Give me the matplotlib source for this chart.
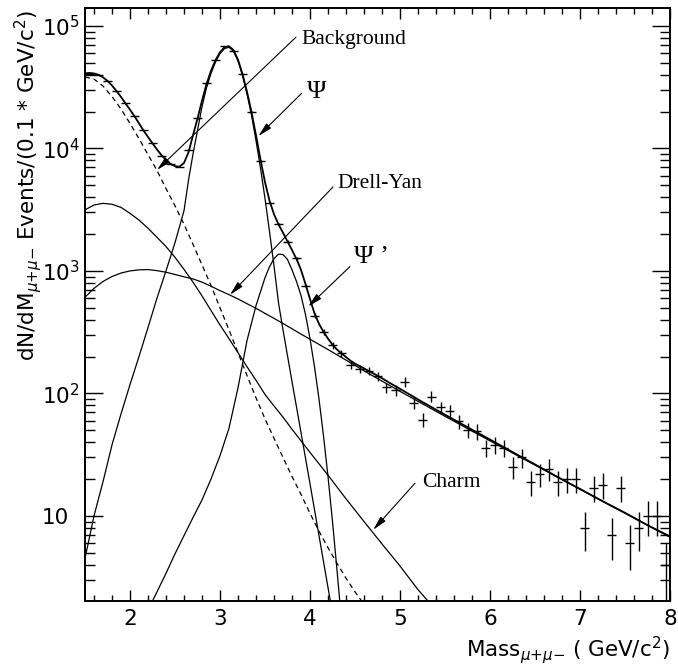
import matplotlib.pyplot as plt
from matplotlib.ticker import FixedLocator, FixedFormatter, MultipleLocator, LogLocator, NullFormatter

# measured dimuon spectrum, 0.1 GeV bins
mass = [1.55, 1.65, 1.75, 1.85, 1.95, 2.05, 2.15, 2.25, 2.35, 2.45,
        2.55, 2.65, 2.75, 2.85, 2.95, 3.05, 3.15, 3.25, 3.35, 3.45,
        3.55, 3.65, 3.75, 3.85, 3.95, 4.05, 4.15, 4.25, 4.35, 4.45,
        4.55, 4.65, 4.75, 4.85, 4.95, 5.05, 5.15, 5.25, 5.35, 5.45,
        5.55, 5.65, 5.75, 5.85, 5.95, 6.05, 6.15, 6.25, 6.35, 6.45,
        6.55, 6.65, 6.75, 6.85, 6.95, 7.05, 7.15, 7.25, 7.35, 7.45,
        7.55, 7.65, 7.75, 7.85, 7.95]
events = [40800, 40000, 35600, 29400, 23400, 18400, 14100, 11000, 8730, 7500,
          7100, 9720, 17600, 34200, 53000, 68700, 62000, 40400, 20000, 7900,
          3600, 2420, 1730, 1270, 757, 431, 319, 247, 213, 170,
          158, 153, 139, 112, 106, 124, 83, 61, 94, 77,
          72, 59, 50, 49, 36, 38, 36, 25, 30, 19,
          22, 24, 19, 20, 20, 8, 17, 18, 7, 17,
          6, 8, 10, 10, 4]
events_err = [200, 200, 190, 170, 150, 135, 120, 105, 95, 87,
              84, 99, 133, 185, 230, 262, 250, 200, 141, 89,
              60, 49, 42, 36, 28, 21, 18, 16, 15, 13,
              12.6, 12.4, 11.8, 10.6, 10.3, 11.1, 9.1, 7.8, 9.7, 8.8,
              8.5, 7.7, 7.1, 7.0, 6.0, 6.2, 6.0, 5.0, 5.5, 4.4,
              4.7, 4.9, 4.4, 4.5, 4.5, 2.8, 4.1, 4.2, 2.6, 4.1,
              2.4, 2.8, 3.2, 3.2, 2.0]

# fit components
bg_mass = [1.5, 1.6, 1.7, 1.8, 1.9, 2.0, 2.1, 2.2, 2.3, 2.4, 2.5, 2.6, 2.7, 2.8,
           2.9, 3.0, 3.1, 3.2, 3.3, 3.4, 3.5, 3.6, 3.7, 3.8, 3.9, 4.0, 4.1, 4.2,
           4.3, 4.4, 4.5, 4.6, 4.7]
bg_vals = [38300, 36800, 32300, 26500, 21000, 16000, 12000, 8900, 6600, 4700, 3400, 2400, 1650, 1120,
           760, 500, 330, 215, 140, 92, 62, 43, 30, 21, 15, 10.5, 7.5, 5.5,
           4.1, 3.1, 2.4, 1.9, 1.5]

charm_mass = [1.5, 1.6, 1.7, 1.8, 1.9, 2.0, 2.1, 2.2, 2.3, 2.4, 2.5, 2.6, 2.7, 2.8,
              2.9, 3.0, 3.1, 3.2, 3.3, 3.4, 3.5, 3.6, 3.7, 3.8, 3.9, 4.0, 4.2, 4.4,
              4.6, 4.8, 5.0, 5.2, 5.4]
charm_vals = [3150, 3450, 3560, 3500, 3300, 2950, 2600, 2230, 1880, 1580, 1290, 1030, 810, 625,
              475, 362, 280, 215, 165, 128, 98, 79, 64, 51, 41, 33, 21.5, 13.8,
              9.0, 5.9, 3.9, 2.5, 1.7]

dy_mass = [1.5, 1.6, 1.7, 1.8, 1.9, 2.0, 2.1, 2.2, 2.3, 2.4, 2.5, 2.6, 2.7, 2.8,
           2.9, 3.0, 3.1, 3.2, 3.3, 3.4, 3.5, 3.6, 3.7, 3.8, 3.9, 4.0, 4.2, 4.4,
           4.6, 4.8, 5.0, 5.5, 6.0, 6.5, 7.0, 7.5, 8.0]
dy_vals = [610, 720, 820, 900, 960, 1000, 1020, 1025, 1005, 975, 935, 895, 860, 810,
           750, 690, 640, 590, 540, 495, 450, 410, 372, 337, 305, 277, 228, 187,
           153, 126, 104, 65, 41, 26, 16.5, 10.5, 6.7]

psi_mass = [1.5, 1.6, 1.7, 1.8, 1.9, 2.0, 2.1, 2.2, 2.3, 2.4, 2.5, 2.6, 2.65, 2.7,
            2.75, 2.8, 2.85, 2.9, 2.95, 3.0, 3.05, 3.1, 3.15, 3.2, 3.25, 3.3, 3.35,
            3.4, 3.45, 3.5, 3.55, 3.6, 3.65, 3.7, 3.8, 3.9, 4.0, 4.1, 4.2, 4.3]
psi_vals = [4.5, 10, 19, 38, 68, 118, 200, 345, 600, 1000, 1700, 3100, 5500, 9000,
            14000, 21900, 31200, 41000, 50700, 59400, 65300, 66900, 62200, 51800, 39400, 27900, 18700,
            11600, 6900, 3900, 2100, 1100, 550, 330, 125, 48, 18.3, 6.9, 2.6, 1.0]

psip_mass = [2.2, 2.3, 2.4, 2.5, 2.6, 2.7, 2.8, 2.9, 3.0, 3.1, 3.2, 3.3, 3.4, 3.5,
             3.55, 3.6, 3.65, 3.7, 3.75, 3.8, 3.85, 3.9, 3.95, 4.0, 4.05, 4.1, 4.15,
             4.2, 4.25, 4.3, 4.35]
psip_vals = [1.7, 2.4, 3.4, 4.9, 6.9, 9.7, 13.5, 20, 31, 52, 111, 270, 520, 880,
             1080, 1260, 1370, 1360, 1240, 1020, 820, 630, 440, 280, 165, 90, 45,
             21, 9, 3.6, 1.4]

total_mass = [1.5, 1.55, 1.6, 1.65, 1.7, 1.75, 1.8, 1.85, 1.9, 1.95, 2.0, 2.05, 2.1, 2.15,
              2.2, 2.25, 2.3, 2.35, 2.4, 2.45, 2.5, 2.55, 2.6, 2.65, 2.7, 2.75, 2.8, 2.85,
              2.9, 2.95, 3.0, 3.05, 3.1, 3.15, 3.2, 3.25, 3.3, 3.35, 3.4, 3.45, 3.5, 3.55,
              3.6, 3.65, 3.7, 3.75, 3.8, 3.85, 3.9, 3.95, 4.0, 4.05, 4.1, 4.15, 4.2, 4.25,
              4.3, 4.35, 4.4, 4.45, 4.5, 4.6, 4.7, 4.8, 4.9, 5.0, 5.25, 5.5, 5.75, 6.0,
              6.25, 6.5, 6.75, 7.0, 7.25, 7.5, 7.75, 8.0]
total_vals = [41000, 41300, 40900, 39900, 38000, 35600, 32600, 29400, 26300, 23300, 20700, 18300, 16000, 14000,
              12400, 11000, 9800, 8800, 8050, 7450, 7150, 7100, 7600, 9300, 12800, 17500, 24500, 33500,
              43000, 52500, 61000, 67000, 68200, 63500, 53000, 40500, 29000, 19800, 12800, 8100, 5300, 3750,
              2900, 2400, 2050, 1740, 1480, 1250, 1020, 780, 590, 450, 370, 318, 280, 250,
              228, 212, 198, 185, 175, 160, 146, 133, 120, 109, 85, 67, 53, 42,
              33.2, 26.3, 20.8, 16.6, 13.2, 10.6, 8.4, 6.8]

xtick_vals = [2, 3, 4, 5, 6, 7, 8]
xtick_labels = ['2', '3', '4', '5', '6', '7', '8']
ytick_vals = [10, 100, 1000, 10000, 100000]
ytick_labels = ['10', r'$10^{2}$', r'$10^{3}$', r'$10^{4}$', r'$10^{5}$']

plt.rcParams['font.family'] = ['DejaVu Sans']
plt.rcParams['mathtext.fontset'] = 'dejavusans'
serif = ['Liberation Serif', 'DejaVu Serif']

fig = plt.figure(figsize=(6.78, 6.66), dpi=100)
ax = fig.add_axes([85 / 678, 1 - 601 / 666, 585 / 678, 593 / 666])
ax.set_yscale('log')
ax.set_xlim(1.5, 8.0)
ax.set_ylim(2.02, 1.4e5)

ax.plot(bg_mass, bg_vals, color='k', lw=0.9, ls=(0, (4, 3)))
ax.plot(charm_mass, charm_vals, color='k', lw=0.9)
ax.plot(dy_mass, dy_vals, color='k', lw=0.9)
ax.plot(psi_mass, psi_vals, color='k', lw=0.9)
ax.plot(psip_mass, psip_vals, color='k', lw=0.9)
ax.plot(total_mass, total_vals, color='k', lw=1.3)
ax.errorbar(mass, events, yerr=events_err, xerr=0.05, fmt='none',
            ecolor='k', elinewidth=1.0, capsize=0)

# labels with arrows
arrow = dict(arrowstyle='-|>,head_length=0.85,head_width=0.2', color='k', lw=0.8,
             shrinkA=0, shrinkB=0)
notes = [
    ('Background', 15.5, (3.91, 76900), (3.844, 80900), (2.30, 6670)),
    ('\u03a8', 19, (3.97, 29000), (3.908, 28200), (3.426, 12600)),
    ('Drell-Yan', 15.5, (4.30, 5200), (4.256, 4850), (3.111, 637)),
    ('\u03a8 \u2019', 19, (4.49, 1300), (4.444, 1085), (3.981, 512)),
    ('Charm', 15.5, (5.244, 18.6), (5.167, 18.5), (4.703, 7.7)),
]
for txt, size, pos, start, tip in notes:
    ax.text(pos[0], pos[1], txt, family=serif, fontsize=size, ha='left', va='center')
    ax.annotate('', xy=tip, xytext=start, arrowprops=arrow)

ax.xaxis.set_major_locator(FixedLocator(xtick_vals))
ax.xaxis.set_major_formatter(FixedFormatter(xtick_labels))
ax.xaxis.set_minor_locator(MultipleLocator(0.2))
ax.yaxis.set_major_locator(FixedLocator(ytick_vals))
ax.yaxis.set_major_formatter(FixedFormatter(ytick_labels))
ax.yaxis.set_minor_locator(LogLocator(base=10, subs=range(2, 10)))
ax.yaxis.set_minor_formatter(NullFormatter())

ax.tick_params(which='both', direction='in', top=True, right=True, width=1.0)
ax.tick_params(axis='x', which='major', length=8, pad=6, labelsize=15.5)
ax.tick_params(axis='x', which='minor', length=4.5)
ax.tick_params(axis='y', which='major', length=13, pad=31, labelsize=15.5)
ax.tick_params(axis='y', which='minor', length=7)
for lab in ax.get_yticklabels():
    lab.set_horizontalalignment('left')
for sp in ax.spines.values():
    sp.set_linewidth(1.4)

ax.set_ylabel(r'dN/dM$_{\mu{+}\mu{-}}$ Events/(0.1 * GeV/c$^{2}$)', fontsize=15.5)
ax.yaxis.label.set_verticalalignment('center')
ax.yaxis.set_label_coords(-0.097, 0.70)
ax.set_xlabel(r'Mass$_{\mu{+}\mu{-}}$ ( GeV/c$^{2}$)', fontsize=15.5, ha='right')
ax.xaxis.label.set_verticalalignment('center')
ax.xaxis.set_label_coords(1.0, -0.083)

fig.savefig('out.png', dpi=100)
